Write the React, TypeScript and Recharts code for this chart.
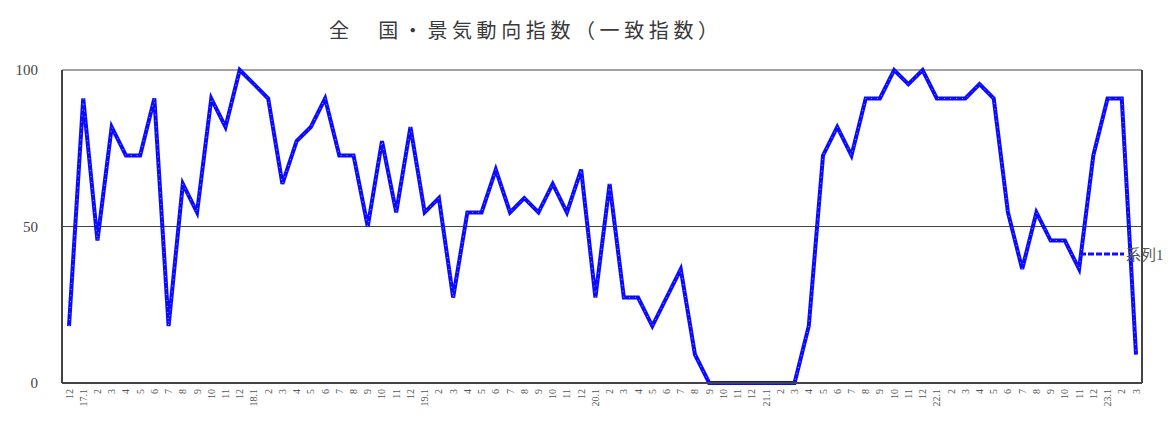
import { CartesianGrid, Line, LineChart, XAxis, YAxis } from "recharts";

// month labels, 2016.12 - 2023.3
const labels = [
  "12",
  "17.1", "2", "3", "4", "5", "6", "7", "8", "9", "10", "11", "12",
  "18.1", "2", "3", "4", "5", "6", "7", "8", "9", "10", "11", "12",
  "19.1", "2", "3", "4", "5", "6", "7", "8", "9", "10", "11", "12",
  "20.1", "2", "3", "4", "5", "6", "7", "8", "9", "10", "11", "12",
  "21.1", "2", "3", "4", "5", "6", "7", "8", "9", "10", "11", "12",
  "22.1", "2", "3", "4", "5", "6", "7", "8", "9", "10", "11", "12",
  "23.1", "2", "3",
];

// 系列1 (DI, %)
const series1 = [
  18.2,
  90.9, 45.5, 81.8, 72.7, 72.7, 90.9, 18.2, 63.6, 54.5, 90.9, 81.8, 100,
  95.5, 90.9, 63.6, 77.3, 81.8, 90.9, 72.7, 72.7, 50.0, 77.3, 54.5, 81.8,
  54.5, 59.1, 27.3, 54.5, 54.5, 68.2, 54.5, 59.1, 54.5, 63.6, 54.5, 68.2,
  27.3, 63.6, 27.3, 27.3, 18.2, 27.3, 36.4, 9.1, 0, 0, 0, 0,
  0, 0, 0, 18.2, 72.7, 81.8, 72.7, 90.9, 90.9, 100, 95.5, 100,
  90.9, 90.9, 90.9, 95.5, 90.9, 54.5, 36.4, 54.5, 45.5, 45.5, 36.4, 72.7,
  90.9, 90.9, 9.1,
];

const yTicks = [0, 50, 100];

const data = labels.map((label, i) => ({ label, v: series1[i] }));

const serif = "'Liberation Serif', 'Noto Sans CJK JP', serif";

function MonthTick({ x, y, payload }: any) {
  return (
    <text
      x={x}
      y={y}
      dy="0.35em"
      transform={`rotate(-90, ${x}, ${y})`}
      textAnchor="end"
      fontSize={10}
      fontFamily={serif}
      fill="#555"
    >
      {payload.value}
    </text>
  );
}

export default function App() {
  return (
    <div style={{ position: "absolute", left: 0, top: 0, width: 1174, height: 425, background: "#fff" }}>
      <div
        style={{
          position: "absolute",
          left: 329,
          top: 15,
          fontFamily: "'Noto Sans CJK JP', sans-serif",
          fontSize: 20,
          letterSpacing: 4.6,
          color: "#3a3a3a",
          whiteSpace: "pre",
        }}
      >
        全　国・景気動向指数（一致指数）
      </div>
      <LineChart
        width={1174}
        height={425}
        data={data}
        margin={{ top: 70, right: 30, bottom: 0, left: 0 }}
      >
        <CartesianGrid vertical={false} stroke="#444" strokeWidth={1.2} />
        <XAxis
          dataKey="label"
          interval={0}
          height={42}
          padding={{ left: 7, right: 6 }}
          tick={<MonthTick />}
          tickLine={false}
          tickSize={0}
          tickMargin={6}
          axisLine={{ stroke: "#444", strokeWidth: 2 }}
        />
        <YAxis
          domain={[0, 100]}
          ticks={yTicks}
          width={62}
          tickLine={false}
          tickSize={0}
          tickMargin={24}
          axisLine={{ stroke: "#444", strokeWidth: 2 }}
          tick={{ fontSize: 15, fill: "#444", fontFamily: serif }}
        />
        <YAxis
          yAxisId="right"
          orientation="right"
          domain={[0, 100]}
          ticks={yTicks}
          width={2}
          tick={false}
          tickLine={false}
          axisLine={{ stroke: "#444", strokeWidth: 2 }}
        />
        <Line
          dataKey="v"
          name="系列1"
          stroke="#0a0aff"
          strokeWidth={4}
          dot={false}
          isAnimationActive={false}
        />
        <Line
          yAxisId="right"
          dataKey="v"
          stroke="#fff"
          strokeWidth={1}
          strokeOpacity={0.6}
          strokeDasharray="1 5"
          dot={false}
          isAnimationActive={false}
        />
      </LineChart>
      <div
        style={{
          position: "absolute",
          left: 1080,
          top: 243,
          display: "flex",
          alignItems: "center",
        }}
      >
        <svg width={46} height={10}>
          <line x1={0} y1={5} x2={44} y2={5} stroke="#1010ff" strokeWidth={3} strokeDasharray="6 2" />
        </svg>
        <span style={{ fontFamily: serif, fontSize: 15, color: "#555" }}>系列1</span>
      </div>
    </div>
  );
}
